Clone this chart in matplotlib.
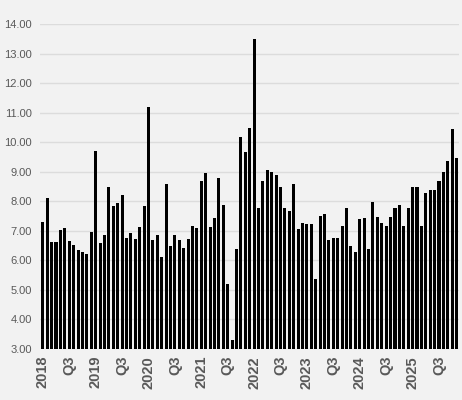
import numpy as np
import matplotlib
matplotlib.use('Agg')
import matplotlib.pyplot as plt

# monthly values, Jan 2018 .. Nov 2025
v2018 = [7.31, 8.12, 6.62, 6.62, 7.03, 7.09, 6.67, 6.52, 6.34, 6.28, 6.22, 6.95]
v2019 = [9.69, 6.60, 6.87, 8.50, 7.84, 7.95, 8.20, 6.77, 6.91, 6.74, 7.14, 7.84]
v2020 = [11.20, 6.69, 6.87, 6.13, 8.60, 6.50, 6.85, 6.69, 6.43, 6.72, 7.16, 7.09]
v2021 = [8.67, 8.97, 7.14, 7.43, 8.78, 7.86, 5.19, 3.30, 6.38, 10.17, 9.67, 10.49]
v2022 = [13.49, 7.76, 8.67, 9.07, 8.98, 8.88, 8.47, 7.76, 7.67, 8.58, 7.07, 7.26]
v2023 = [7.24, 7.24, 5.36, 7.50, 7.56, 6.68, 6.77, 6.77, 7.16, 7.76, 6.47, 6.27]
v2024 = [7.41, 7.42, 6.37, 7.96, 7.47, 7.26, 7.16, 7.47, 7.76, 7.86, 7.16, 7.76]
v2025 = [8.47, 8.47, 7.16, 8.27, 8.38, 8.38, 8.69, 8.98, 9.36, 10.46, 9.46]

years = ['2018', '2019', '2020', '2021', '2022', '2023', '2024', '2025']

values = v2018 + v2019 + v2020 + v2021 + v2022 + v2023 + v2024 + v2025
x = np.arange(len(values))

# tick every half year: year at January, Q3 at July
tick_pos = []
tick_lab = []
for i, y in enumerate(years):
    tick_pos += [i * 12, i * 12 + 6]
    tick_lab += [y, 'Q3']

bg = '#f2f2f2'
fig = plt.figure(figsize=(4.62, 4.0), dpi=100, facecolor=bg)
ax = fig.add_axes([0.087, 0.1275, 0.907, 0.8125], facecolor=bg)

ax.bar(x, np.array(values) - 3, bottom=3, width=0.7, color='black', zorder=3)

ax.set_ylim(3, 14)
ax.set_xlim(-0.6, len(values) - 0.4)
ax.set_yticks(np.arange(3, 15, 1))
ax.set_yticklabels(['%.2f' % t for t in np.arange(3, 15, 1)])
ax.set_xticks(tick_pos)
ax.set_xticklabels(tick_lab, rotation=90, fontweight='bold')

ax.grid(axis='y', color='#dcdcdc', linewidth=1, zorder=0)
for s in ax.spines.values():
    s.set_visible(False)
ax.tick_params(axis='both', length=0, labelcolor='#595959',
               labelfontfamily='Liberation Sans')
ax.tick_params(axis='y', pad=6, labelsize=8)
ax.tick_params(axis='x', pad=5, labelsize=10.5)

fig.savefig('out.png', dpi=100, facecolor=bg)
